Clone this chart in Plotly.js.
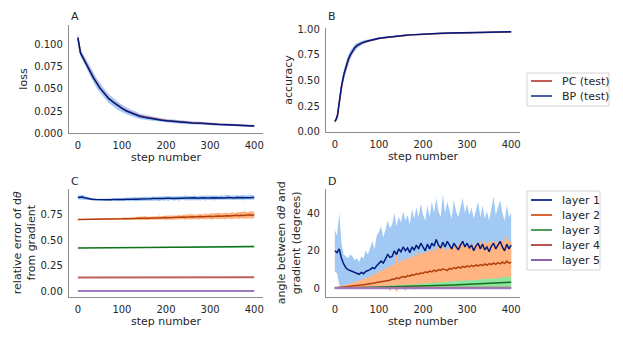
<!DOCTYPE html>
<html>
<head>
<meta charset="utf-8">
<script src="https://cdn.plot.ly/plotly-3.0.1.min.js"></script>
<style>
  body { margin: 0; background: #fff; }
  #chart { width: 623px; height: 340px; }
</style>
</head>
<body>
<div id="chart"></div>
<script>
// steps for the loss / accuracy panels (denser where the curves move fast)
const stepsAB = [0,3,6,10,15,20,25,30,35,40,45,50,60,70,80,90,100,110,120,130,140,150,160,170,180,190,200,220,240,260,280,300,320,340,360,380,400];

const lossBP = [0.108,0.097,0.091,0.087,0.082,0.078,0.073,0.068,0.063,0.059,0.055,0.051,
  0.045,0.039,0.035,0.031,0.028,0.025,0.023,0.021,0.019,0.018,0.017,0.016,0.015,0.0145,0.014,
  0.013,0.012,0.0115,0.011,0.010,0.0097,0.0093,0.009,0.0085,0.008];
const lossBPsd = [0.007,0.005,0.004,0.004,0.004,0.0045,0.005,0.005,0.005,0.0055,0.0055,0.0055,
  0.005,0.005,0.0045,0.0045,0.004,0.0038,0.0035,0.0033,0.003,0.0028,0.0026,0.0024,0.0022,0.0021,0.002,
  0.0019,0.0018,0.0017,0.0016,0.0015,0.0014,0.0014,0.0013,0.0013,0.0012];
const lossPC = [0.1085,0.0975,0.0915,0.0875,0.0825,0.0785,0.0735,0.0685,0.0635,0.0595,0.0555,0.0515,
  0.0455,0.0395,0.0355,0.0315,0.0285,0.0255,0.0235,0.0215,0.0195,0.0185,0.0175,0.0165,0.0155,0.0148,0.0143,
  0.0133,0.0123,0.0117,0.0112,0.0102,0.0099,0.0095,0.0091,0.0087,0.0081];
const lossPCsd = [0.006,0.005,0.004,0.004,0.004,0.0045,0.005,0.005,0.005,0.005,0.005,0.005,
  0.005,0.0048,0.0045,0.0043,0.004,0.0037,0.0034,0.0032,0.003,0.0028,0.0026,0.0024,0.0022,0.0021,0.002,
  0.0019,0.0018,0.0017,0.0016,0.0015,0.0014,0.0013,0.0013,0.0012,0.0012];

const accBP = [0.10,0.12,0.16,0.30,0.44,0.55,0.63,0.70,0.75,0.79,0.82,0.84,
  0.865,0.88,0.893,0.903,0.912,0.918,0.924,0.929,0.934,0.938,0.942,0.945,0.948,0.951,0.953,
  0.957,0.960,0.963,0.965,0.967,0.969,0.971,0.973,0.975,0.976];
const accBPsd = [0.02,0.025,0.03,0.04,0.05,0.05,0.05,0.045,0.04,0.035,0.03,0.025,
  0.02,0.015,0.012,0.01,0.009,0.008,0.008,0.007,0.007,0.006,0.006,0.006,0.005,0.005,0.005,
  0.005,0.004,0.004,0.004,0.004,0.004,0.004,0.004,0.004,0.004];
const accPC = [0.10,0.12,0.155,0.295,0.435,0.545,0.625,0.695,0.745,0.785,0.815,0.837,
  0.862,0.878,0.891,0.901,0.91,0.916,0.922,0.927,0.932,0.936,0.94,0.943,0.946,0.949,0.951,
  0.955,0.958,0.961,0.963,0.965,0.967,0.969,0.971,0.973,0.974];

// every 5 steps for the noisy per-layer panels
const stepsFine = [0,5,10,15,20,25,30,35,40,45,50,55,60,65,70,75,80,85,90,95,
  100,105,110,115,120,125,130,135,140,145,150,155,160,165,170,175,180,185,190,195,
  200,205,210,215,220,225,230,235,240,245,250,255,260,265,270,275,280,285,290,295,
  300,305,310,315,320,325,330,335,340,345,350,355,360,365,370,375,380,385,390,395,400];
const stepsCoarse = [0,10,20,30,40,50,60,70,80,90,100,110,120,130,140,150,160,170,180,190,
  200,210,220,230,240,250,260,270,280,290,300,310,320,330,340,350,360,370,380,390,400];
const stepsFlat = [0,100,200,300,400];

// panel C: relative error of d-theta from gradient
const relErr1 = [0.920,0.922,0.925,0.918,0.912,0.906,0.903,0.901,0.900,
  0.899,0.898,0.899,0.897,0.898,0.899,0.898,0.900,0.899,0.901,0.900,0.902,
  0.901,0.903,0.902,0.904,0.903,0.905,0.904,0.906,0.905,0.907,0.906,0.908,
  0.907,0.909,0.908,0.910,0.909,0.911,0.910,0.912,0.909,0.913,0.911,0.912,
  0.914,0.911,0.915,0.912,0.916,0.913,0.915,0.914,0.917,0.913,0.916,0.915,
  0.917,0.914,0.918,0.915,0.917,0.916,0.919,0.915,0.918,0.917,0.916,0.919,
  0.917,0.920,0.916,0.919,0.918,0.921,0.917,0.920,0.919,0.918,0.921,0.919];
const relErr1Sd = [0.020,0.025,0.022,0.018,0.015,0.012,0.010,0.010,0.009,
  0.010,0.009,0.011,0.010,0.012,0.011,0.013,0.012,0.014,0.013,0.016,0.014,
  0.017,0.015,0.020,0.016,0.018,0.022,0.017,0.019,0.016,0.021,0.018,0.020,
  0.017,0.022,0.018,0.020,0.024,0.018,0.021,0.019,0.023,0.018,0.020,0.022,
  0.019,0.024,0.018,0.021,0.026,0.019,0.022,0.020,0.025,0.019,0.021,0.023,
  0.020,0.025,0.019,0.022,0.020,0.026,0.021,0.019,0.024,0.020,0.022,0.027,
  0.020,0.023,0.021,0.025,0.019,0.022,0.027,0.020,0.024,0.021,0.023,0.020];
const relErr2 = [0.705,0.705,0.706,0.706,0.706,0.707,0.707,0.707,0.708,
  0.708,0.708,0.709,0.709,0.709,0.710,0.709,0.711,0.710,0.711,0.712,0.711,
  0.713,0.712,0.714,0.713,0.715,0.714,0.716,0.715,0.717,0.716,0.718,0.717,
  0.719,0.718,0.721,0.719,0.722,0.720,0.723,0.721,0.725,0.722,0.724,0.726,
  0.723,0.727,0.725,0.729,0.726,0.730,0.728,0.731,0.729,0.733,0.730,0.734,
  0.732,0.735,0.733,0.737,0.734,0.738,0.736,0.739,0.737,0.741,0.738,0.742,
  0.739,0.743,0.741,0.745,0.742,0.747,0.744,0.748,0.746,0.752,0.747,0.750];
const relErr2Sd = [0.003,0.003,0.003,0.004,0.004,0.004,0.005,0.005,0.005,
  0.006,0.006,0.007,0.007,0.008,0.008,0.009,0.008,0.010,0.009,0.011,0.010,
  0.012,0.011,0.014,0.012,0.016,0.013,0.015,0.018,0.014,0.016,0.019,0.015,
  0.017,0.020,0.016,0.018,0.022,0.017,0.019,0.023,0.018,0.021,0.024,0.019,
  0.021,0.025,0.020,0.023,0.027,0.021,0.024,0.028,0.022,0.025,0.029,0.023,
  0.025,0.030,0.024,0.027,0.031,0.025,0.028,0.032,0.026,0.029,0.033,0.027,
  0.029,0.034,0.028,0.031,0.035,0.029,0.032,0.036,0.030,0.034,0.038,0.031];
const relErr3 = [0.425,0.425,0.426,0.426,0.426,0.427,0.427,0.427,0.428,0.428,
  0.428,0.429,0.429,0.429,0.430,0.430,0.430,0.431,0.431,0.431,
  0.432,0.432,0.432,0.433,0.433,0.434,0.434,0.434,0.435,0.435,
  0.436,0.436,0.436,0.437,0.437,0.438,0.438,0.439,0.439,0.440,0.440];
const relErr3Sd = [0.002,0.002,0.002,0.002,0.002,0.003,0.003,0.003,0.003,0.003,
  0.003,0.004,0.004,0.004,0.004,0.004,0.005,0.005,0.005,0.005,
  0.005,0.005,0.006,0.006,0.006,0.006,0.006,0.007,0.007,0.007,
  0.007,0.007,0.008,0.008,0.008,0.008,0.008,0.009,0.009,0.009,0.009];
const relErr4 = [0.137,0.137,0.138,0.138,0.139];
const relErr5 = [0.005,0.005,0.005,0.005,0.005];

// panel D: angle between d-theta and gradient
const angle1 = [20,19,21,16,13,11,10,9.5,9,8.5,
  8,7.5,8.5,7.8,9,9.5,10,11,10.5,12,
  13,14.5,13.5,16,18,16.5,17,20,18,21,
  19.5,22,20,21.5,19,22,20.5,23,21,24,
  22,20,23.5,21,24,22.5,26,23,21.5,24.5,
  22,25,23,21,24,22.5,20.5,23,25,22,
  24,21.5,23,20,22.5,24,21,23.5,20.5,22,
  19.5,22.5,24,21,23,25,22,20,23.5,21,23];
const angle1Hi = [31,28,40,24,18,17,16,18,17,15,
  16,14,17,16,20,18,22,25,21,28,
  30,33,27,31,36,32,34,40,33,38,
  35,41,36,39,34,42,37,43,38,45,
  39,36,44,38,46,40,48,41,38,50,
  40,46,42,37,47,41,38,44,48,40,
  45,39,43,37,42,46,38,44,37,41,
  36,42,49,39,43,47,40,36,44,38,40];
const angle1Lo = [9,8,2,0,1,0.5,1,0.5,1,0.5,
  1,0.5,1,0.5,1.5,1,2,2.5,2,3,
  3.5,4,3.5,5,6,5,5.5,7,6,7.5,
  7,8.5,7.5,8,7,9,8.5,10,9,10.5,
  10,9,11,9.5,11.5,10,12,10.5,9.5,11,
  10,12,10.5,9.5,11,10.5,9,11,12,10,
  11.5,10,11,9.5,10.5,12,10,11,9.5,10.5,
  9,11,12,10,11,12.5,10.5,9.5,11.5,10,11];
const angle2 = [0.2,0.3,0.4,0.5,0.6,0.8,0.9,1.0,1.2,1.3,
  1.5,1.6,1.8,2.0,2.1,2.3,2.5,2.8,2.9,3.2,
  3.4,3.8,3.6,4.2,4.4,4.3,5.0,4.8,5.6,5.2,
  5.9,6.3,5.9,6.8,6.5,7.3,7.0,7.9,7.4,8.3,
  8.0,8.8,8.4,9.2,8.8,9.7,9.1,10.0,9.6,10.4,
  10.0,9.5,10.6,10.2,11.1,10.5,11.4,10.8,11.7,11.2,
  12.0,11.4,12.2,11.6,12.5,11.9,12.7,12.1,13.0,12.3,
  13.2,12.6,13.5,12.8,13.7,13.0,14.0,13.2,14.5,13.4,14.0];
const angle2Hi = [0.5,0.7,1.0,1.3,1.6,2.0,2.3,2.6,3.0,3.3,
  3.7,4.0,4.5,5.0,5.3,5.8,6.3,7.0,7.3,8.0,
  8.8,10.0,9.0,11.0,11.5,10.8,13.0,12.0,20.0,13.0,
  14.5,16.0,14.0,17.0,15.5,18.0,16.5,19.0,17.0,19.5,
  18.0,20.0,18.5,21.0,19.0,22.0,20.0,23.0,20.5,22.5,
  21.0,20.0,22.0,21.0,23.0,21.5,23.5,22.0,24.0,22.5,
  24.0,22.0,23.5,22.5,24.5,23.0,25.0,23.0,25.5,23.5,
  25.0,24.0,25.5,24.0,25.0,24.5,26.0,24.5,28.0,24.5,25.0];
const angle2Lo = [0,0,0,0,0,0,0,0,0,0,
  0,0,0,0,0,0,0.2,0.2,0.3,0.3,
  0.4,0.5,0.3,0.6,0.4,-1.5,0.5,0.7,-2,0.6,
  0.8,0.5,-1.5,0.9,0.7,1.0,-1,0.8,1.1,0.9,
  1.2,1.0,1.4,1.2,1.5,1.3,1.7,1.4,1.8,1.6,
  2.0,1.7,2.1,1.8,2.2,2.0,2.4,2.1,2.5,2.2,
  2.6,2.3,2.8,2.5,3.0,2.6,3.1,2.8,3.3,2.9,
  3.4,3.0,3.6,3.1,3.7,3.3,3.9,3.4,4.0,3.5,4.1];
const angle3 = [0.05,0.1,0.15,0.2,0.25,0.3,0.35,0.4,0.45,0.5,
  0.55,0.6,0.65,0.7,0.8,0.85,0.9,1.0,1.05,1.1,
  1.2,1.3,1.35,1.45,1.5,1.6,1.7,1.8,1.9,2.0,
  2.1,2.2,2.3,2.4,2.5,2.6,2.7,2.8,3.0,3.1,3.3];
const angle3Sd = [0.1,0.15,0.2,0.25,0.3,0.35,0.4,0.45,0.5,0.55,
  0.6,0.7,0.75,0.8,0.9,1.0,1.05,1.1,1.2,1.3,
  1.4,1.5,1.55,1.6,1.7,1.8,1.9,2.0,2.1,2.2,
  2.3,2.2,2.5,2.4,2.6,2.5,2.8,2.6,2.9,2.7,2.8];
const angle4 = [0.4,0.4,0.4,0.4,0.4];
const angle5 = [0.05,0.05,0.05,0.05,0.05];

const topLegendNames = ['PC (test)', 'BP (test)'];
const topLegendColors = ['#c65a55', '#4a5fa8'];
const layerNames = ['layer 1', 'layer 2', 'layer 3', 'layer 4', 'layer 5'];
const layerLegendColors = ['#26399b', '#d8683a', '#4d9e5a', '#b75550', '#8d63ad'];

const lineColors = ['#001c7f', '#b1400d', '#12711c', '#c0605a', '#9b7bc2'];
const bandColors = ['#a1c9f4', '#ffb482', '#8de5a1'];

function plus(a, b) { return a.map((v, i) => v + b[i]); }
function minus(a, b) { return a.map((v, i) => v - b[i]); }

function band(xs, lo, hi, color, xa, ya, opacity) {
    return {
        x: xs.concat(xs.slice().reverse()),
        y: hi.concat(lo.slice().reverse()),
        fill: 'toself', fillcolor: color, opacity: opacity || 1,
        line: { width: 0 }, mode: 'lines',
        xaxis: xa, yaxis: ya, showlegend: false, hoverinfo: 'skip'
    };
}

function line(xs, ys, color, xa, ya, width) {
    return {
        x: xs, y: ys, mode: 'lines',
        line: { color: color, width: width || 1.5 },
        xaxis: xa, yaxis: ya, showlegend: false, hoverinfo: 'skip'
    };
}

const traces = [
    // A
    band(stepsAB, minus(lossPC, lossPCsd), plus(lossPC, lossPCsd), '#ff9f9b', 'x', 'y', 0.4),
    band(stepsAB, minus(lossBP, lossBPsd), plus(lossBP, lossBPsd), bandColors[0], 'x', 'y', 0.95),
    line(stepsAB, lossPC, '#c44e52', 'x', 'y'),
    line(stepsAB, lossBP, lineColors[0], 'x', 'y'),
    // B
    band(stepsAB, minus(accPC, accBPsd), plus(accPC, accBPsd), '#ff9f9b', 'x2', 'y2', 0.4),
    band(stepsAB, minus(accBP, accBPsd), plus(accBP, accBPsd), bandColors[0], 'x2', 'y2', 0.95),
    line(stepsAB, accPC, '#c44e52', 'x2', 'y2'),
    line(stepsAB, accBP, lineColors[0], 'x2', 'y2'),
    // C
    band(stepsFine, minus(relErr1, relErr1Sd), plus(relErr1, relErr1Sd), bandColors[0], 'x3', 'y3'),
    band(stepsFine, minus(relErr2, relErr2Sd), plus(relErr2, relErr2Sd), bandColors[1], 'x3', 'y3'),
    band(stepsCoarse, minus(relErr3, relErr3Sd), plus(relErr3, relErr3Sd), bandColors[2], 'x3', 'y3'),
    line(stepsFine, relErr1, lineColors[0], 'x3', 'y3'),
    line(stepsFine, relErr2, lineColors[1], 'x3', 'y3'),
    line(stepsCoarse, relErr3, lineColors[2], 'x3', 'y3'),
    line(stepsFlat, relErr4, lineColors[3], 'x3', 'y3', 2),
    line(stepsFlat, relErr5, lineColors[4], 'x3', 'y3', 2),
    // D
    band(stepsFine, angle1Lo, angle1Hi, bandColors[0], 'x4', 'y4'),
    band(stepsFine, angle2Lo, angle2Hi, bandColors[1], 'x4', 'y4'),
    band(stepsCoarse, minus(angle3, angle3Sd), plus(angle3, angle3Sd), bandColors[2], 'x4', 'y4'),
    line(stepsFine, angle1, lineColors[0], 'x4', 'y4'),
    line(stepsFine, angle2, lineColors[1], 'x4', 'y4'),
    line(stepsCoarse, angle3, lineColors[2], 'x4', 'y4'),
    line(stepsFlat, angle4, lineColors[3], 'x4', 'y4', 2),
    line(stepsFlat, angle5, lineColors[4], 'x4', 'y4', 2)
];

const textColor = '#262626';
const font = 'DejaVu Sans, sans-serif';
const W = 623, H = 340;
const px = v => v / W;
const py = v => 1 - v / H;

function xAxis(domain, anchor) {
    return {
        domain: domain, anchor: anchor, range: [-20, 420],
        tickvals: [0, 100, 200, 300, 400],
        showline: true, linecolor: '#8c8c8c', linewidth: 1.25,
        showgrid: false, zeroline: false,
        ticks: 'outside', ticklen: 3, tickcolor: 'rgba(0,0,0,0)',
        tickfont: { size: 10, color: textColor },
        title: { text: 'step number', font: { size: 11, color: textColor }, standoff: 3 }
    };
}

function yAxis(domain, anchor, range, tickvals, fmt, title, standoff) {
    return {
        domain: domain, anchor: anchor, range: range,
        tickvals: tickvals, tickformat: fmt,
        showline: true, linecolor: '#8c8c8c', linewidth: 1.25,
        showgrid: false, zeroline: false,
        ticks: 'outside', ticklen: 3, tickcolor: 'rgba(0,0,0,0)',
        tickfont: { size: 10, color: textColor },
        title: { text: title, font: { size: 11, color: textColor }, standoff: standoff }
    };
}

function letter(text, x, y) {
    return {
        text: text, x: px(x), y: py(y), xref: 'paper', yref: 'paper',
        xanchor: 'left', yanchor: 'middle', showarrow: false,
        font: { size: 11, color: textColor }
    };
}

// matplotlib-style legend boxes: frame, short line sample, label
const shapes = [];
const annotations = [
    letter('A', 69, 16.5), letter('B', 326, 16.5),
    letter('C', 69, 181), letter('D', 326, 181)
];

function addLegend(names, colors, top, bottom, right, rowTop) {
    shapes.push({
        type: 'rect', xref: 'paper', yref: 'paper',
        x0: px(527), x1: px(right), y0: py(bottom), y1: py(top),
        line: { color: '#d4d4d4', width: 1 }, fillcolor: '#fff', layer: 'above'
    });
    names.forEach((name, i) => {
        const yc = rowTop + i * 15;
        shapes.push({
            type: 'line', xref: 'paper', yref: 'paper',
            x0: px(531), x1: px(552), y0: py(yc), y1: py(yc),
            line: { color: colors[i], width: 2 }, layer: 'above'
        });
        annotations.push({
            text: name, x: px(560), y: py(yc), xref: 'paper', yref: 'paper',
            xanchor: 'left', yanchor: 'middle', showarrow: false,
            font: { size: 11, color: textColor }
        });
    });
}

addLegend(topLegendNames, topLegendColors, 73, 106, 609, 81);
addLegend(layerNames, layerLegendColors, 191, 270, 600, 200);

const layout = {
    width: W, height: H,
    margin: { l: 0, r: 0, t: 0, b: 0 },
    paper_bgcolor: '#fff', plot_bgcolor: '#fff',
    font: { family: font, color: textColor },
    showlegend: false, hovermode: false,
    xaxis: xAxis([0.1108, 0.4222], 'y'),
    yaxis: yAxis([0.6088, 0.9265], 'x', [0, 0.1227],
        [0, 0.025, 0.05, 0.075, 0.1], '.3f', 'loss', 4),
    xaxis2: xAxis([0.5233, 0.8347], 'y2'),
    yaxis2: yAxis([0.6118, 0.9176], 'x2', [-0.003, 1.012],
        [0, 0.25, 0.5, 0.75, 1], '.2f', 'accuracy', 2),
    xaxis3: xAxis([0.1108, 0.4222], 'y3'),
    yaxis3: yAxis([0.1279, 0.4441], 'x3', [-0.049, 1.003],
        [0, 0.25, 0.5, 0.75], '.2f', 'relative error of d<i>θ</i><br>from gradient', 2),
    xaxis4: xAxis([0.5233, 0.8347], 'y4'),
    yaxis4: yAxis([0.1279, 0.4441], 'x4', [-4.3, 52.8],
        [0, 20, 40], 'd', 'angle between d<i>θ</i> and<br>gradient (degrees)', 4),
    shapes: shapes,
    annotations: annotations
};

Plotly.newPlot('chart', traces, layout, { staticPlot: true });
</script>
</body>
</html>
